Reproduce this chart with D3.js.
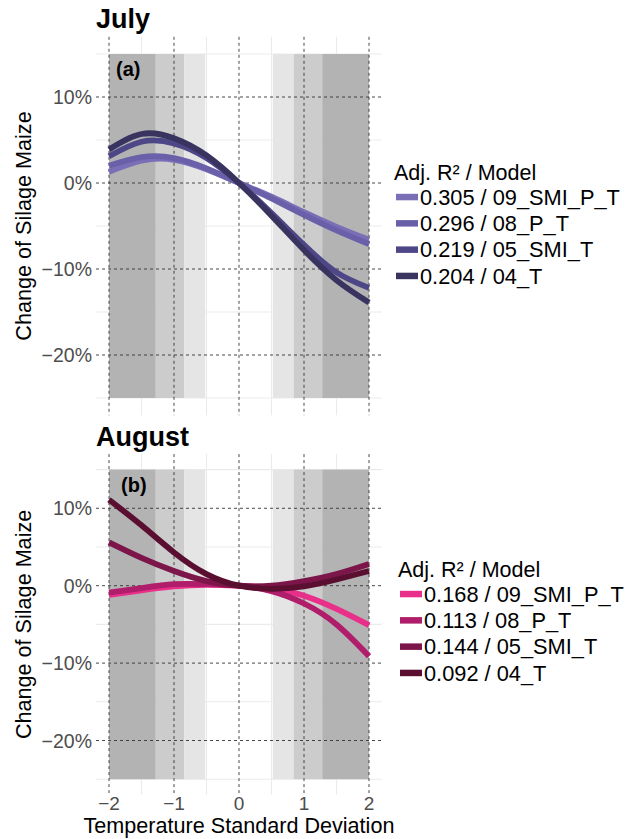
<!DOCTYPE html>
<html>
<head>
<meta charset="utf-8">
<script src="https://cdn.jsdelivr.net/npm/d3@7"></script>
<style>
  body { margin: 0; background: #fff; }
  svg { display: block; font-family: "Liberation Sans", Arial, sans-serif; }
</style>
</head>
<body>
<div id="chart"></div>
<script>
// x = temperature standard deviation, values = change of silage maize in %
var sdSteps = [-2, -1.5, -1, -0.5, 0, 0.5, 1, 1.5, 2];

var julyModels = ["0.305 / 09_SMI_P_T", "0.296 / 08_P_T", "0.219 / 05_SMI_T", "0.204 / 04_T"];
var july09 = [1.3, 2.6, 2.7, 1.6, 0, -1.6, -3.4, -5.1, -6.6];
var july08 = [2.0, 3.0, 2.9, 1.7, 0, -1.8, -3.7, -5.5, -7.1];
var july05 = [3.1, 4.8, 4.6, 2.9, 0, -3.5, -7.2, -10.4, -12.2];
var july04 = [3.9, 5.7, 5.2, 3.2, 0, -3.8, -7.8, -11.3, -13.9];

var augModels = ["0.168 / 09_SMI_P_T", "0.113 / 08_P_T", "0.144 / 05_SMI_T", "0.092 / 04_T"];
var aug09 = [-1.2, -0.6, -0.1, 0.1, 0, -0.3, -1.3, -3.0, -5.1];
var aug08 = [-0.9, -0.3, 0.2, 0.2, 0, -0.7, -2.3, -5.0, -9.1];
var aug05 = [5.6, 3.6, 1.9, 0.6, 0, 0.0, 0.6, 1.5, 2.8];
var aug04 = [11.1, 7.8, 4.3, 1.5, 0, -0.4, -0.1, 0.8, 1.9];

// shaded normal quantile bands (10/20/30 %)
var bandFrom = [-2, -1.28, -0.84, 0.52, 0.84, 1.28];
var bandTo = [-1.28, -0.84, -0.52, 0.84, 1.28, 2];
var bandLevel = [0, 1, 2, 2, 1, 0];
var bandBottom = -25, bandTop = 15;

var xTicks = [-2, -1, 0, 1, 2];
var xTickLabels = ["\u22122", "\u22121", "0", "1", "2"];
var xMinor = [-1.5, -0.5, 0.5, 1.5];
var yTicks = [10, 0, -10, -20];
var yTickLabels = ["10%", "0%", "\u221210%", "\u221220%"];
var yMinor = [15, 5, -5, -15, -25];

var bandColors = ["#b3b3b3", "#cccccc", "#e5e5e5"];
var julyColors = ["#7a6fb6", "#6a60a9", "#4e4787", "#39335f"];
var augColors = ["#e8308a", "#b01d6b", "#7c1549", "#5a0f30"];

var width = 625, height = 839;
var svg = d3.select("#chart").append("svg")
    .attr("width", width)
    .attr("height", height);

var x = d3.scaleLinear().domain([-2.2, 2.2]).range([96, 382]);

function drawPanel(opts) {
    var y = d3.scaleLinear().domain([-27, 17]).range(opts.yRange);
    var g = svg.append("g");
    var top = opts.yRange[1], bottom = opts.yRange[0];

    // light minor grid
    g.selectAll(".minx").data(xMinor).enter().append("line")
        .attr("x1", d => x(d)).attr("x2", d => x(d))
        .attr("y1", top).attr("y2", bottom)
        .attr("stroke", "#ebebeb").attr("stroke-width", 1.1);
    g.selectAll(".miny").data(yMinor).enter().append("line")
        .attr("x1", x.range()[0]).attr("x2", x.range()[1])
        .attr("y1", d => y(d)).attr("y2", d => y(d))
        .attr("stroke", "#ebebeb").attr("stroke-width", 1.1);

    // grey bands
    g.selectAll(".band").data(bandFrom).enter().append("rect")
        .attr("x", d => x(d))
        .attr("width", (d, i) => x(bandTo[i]) - x(d))
        .attr("y", y(bandTop))
        .attr("height", y(bandBottom) - y(bandTop))
        .attr("fill", (d, i) => bandColors[bandLevel[i]]);

    // dashed major lines
    g.selectAll(".vx").data(xTicks).enter().append("line")
        .attr("x1", d => x(d)).attr("x2", d => x(d))
        .attr("y1", top).attr("y2", bottom)
        .attr("stroke", "#333").attr("stroke-width", 0.9)
        .attr("stroke-dasharray", "3,3");
    g.selectAll(".hy").data(yTicks).enter().append("line")
        .attr("x1", x.range()[0]).attr("x2", x.range()[1])
        .attr("y1", d => y(d)).attr("y2", d => y(d))
        .attr("stroke", "#333").attr("stroke-width", 0.9)
        .attr("stroke-dasharray", "3,3");

    // curves, first legend entry drawn first
    var line = d3.line()
        .x((d, i) => x(sdSteps[i]))
        .y(d => y(d))
        .curve(d3.curveNatural);
    g.selectAll(".curve").data(opts.series).enter().append("path")
        .attr("d", d => line(d))
        .attr("fill", "none")
        .attr("stroke", (d, i) => opts.colors[i])
        .attr("stroke-width", 5.8);

    // y tick labels
    g.selectAll(".yl").data(yTicks).enter().append("text")
        .attr("x", 92).attr("y", d => y(d))
        .attr("dy", "0.36em")
        .attr("text-anchor", "end")
        .attr("font-size", 19.5)
        .attr("fill", "#4d4d4d")
        .text((d, i) => yTickLabels[i]);

    // y title
    g.append("text")
        .attr("transform", "translate(31," + ((top + bottom) / 2) + ") rotate(-90)")
        .attr("text-anchor", "middle")
        .attr("font-size", 21.6)
        .text("Change of Silage Maize");

    // month title + panel letter
    g.append("text")
        .attr("x", 96).attr("y", opts.titleY)
        .attr("font-size", 27).attr("font-weight", "bold")
        .text(opts.title);
    g.append("text")
        .attr("x", opts.letterX).attr("y", y(bandTop) + 22)
        .attr("font-size", 20).attr("font-weight", "bold")
        .text(opts.letter);

    // legend
    var lg = svg.append("g").attr("transform", "translate(" + opts.legendX + "," + opts.legendY + ")");
    lg.append("text")
        .attr("x", -2).attr("y", 0)
        .attr("font-size", 21.5)
        .text("Adj. R\u00b2 / Model");
    var rows = lg.selectAll(".row").data(opts.models).enter().append("g")
        .attr("transform", (d, i) => "translate(0," + (17 + i * 26.3) + ")");
    rows.append("rect")
        .attr("x", 0).attr("y", -3.2).attr("width", 22).attr("height", 6.5)
        .attr("fill", (d, i) => opts.colors[i]);
    rows.append("text")
        .attr("x", 24).attr("dy", "0.36em")
        .attr("font-size", 21.8)
        .text(d => d);

    return y;
}

drawPanel({
    yRange: [415.2, 36.8],
    series: [july09, july08, july05, july04],
    colors: julyColors,
    models: julyModels,
    title: "July", titleY: 28,
    letter: "(a)", letterX: 116,
    legendX: 396, legendY: 180
});

drawPanel({
    yRange: [794.7, 454.1],
    series: [aug09, aug08, aug05, aug04],
    colors: augColors,
    models: augModels,
    title: "August", titleY: 446,
    letter: "(b)", letterX: 121,
    legendX: 400, legendY: 577
});

// x axis only under the lower panel
svg.selectAll(".xl").data(xTicks).enter().append("text")
    .attr("x", d => x(d)).attr("y", 810)
    .attr("text-anchor", "middle")
    .attr("font-size", 19)
    .attr("fill", "#4d4d4d")
    .text((d, i) => xTickLabels[i]);

svg.append("text")
    .attr("x", 239).attr("y", 833)
    .attr("text-anchor", "middle")
    .attr("font-size", 21.6)
    .text("Temperature Standard Deviation");
</script>
</body>
</html>
